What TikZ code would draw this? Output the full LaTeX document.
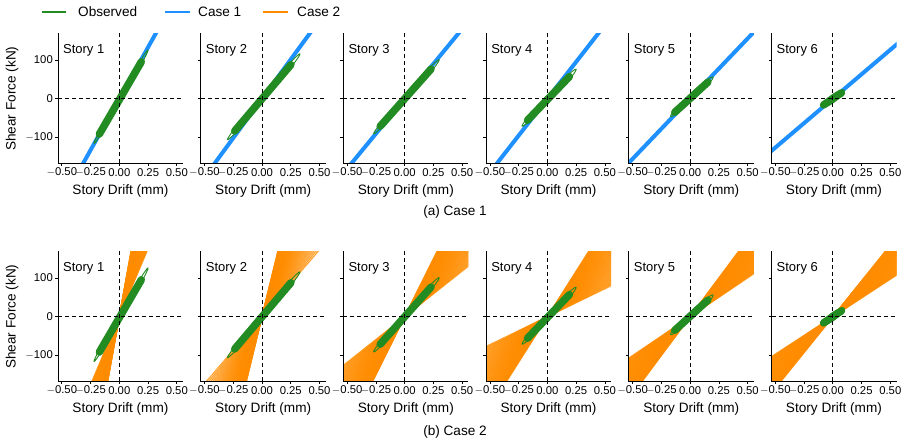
\documentclass[tikz,border=0pt]{standalone}
\usepackage{fontspec}
\setmainfont{Liberation Sans}
\begin{document}
\definecolor{obsg}{RGB}{34,139,34}
\definecolor{cblue}{RGB}{30,144,255}
\definecolor{corange}{RGB}{255,140,0}
\tikzset{tick/.style={font=\fontsize{11.3}{12}\selectfont,inner sep=0pt},
 ttl/.style={font=\fontsize{13.6}{15}\selectfont,inner sep=0pt}}
\newcommand\fanA[1]{\begin{scope}\clip (-0.533,-166) rectangle (0.554,169);
 \draw[cblue,line width=4pt] (-0.6,-0.6*#1)--(0.6,0.6*#1);\end{scope}}
\newcommand\fanB[2]{\begin{scope}\clip (-0.533,-166) rectangle (0.554,169);
 \foreach \i in {0,...,60}{\pgfmathsetmacro\s{#1+(#2-#1)/60*mod(\i*23,61)}
 \draw[corange,line width=1.2pt,opacity=0.8] (-0.6,-0.6*\s)--(0.6,0.6*\s);}\end{scope}}
\newcommand\obs[4]{\pgfmathsetmacro\cx{(#1+#3)/2}\pgfmathsetmacro\cy{(#2+#4)/2}
 \pgfmathsetmacro\dx{(#3-#1)/2}\pgfmathsetmacro\dy{(#4-#2)/2}
 \draw[obsg,line width=0.9pt] plot[domain=0:360,samples=72,smooth] ({\cx+\dx*cos(\x)},{\cy+\dy*cos(\x)+11*sin(\x)});
 \draw[obsg,line width=7.5pt,line cap=round] ({\cx-0.8*\dx},{\cy-0.8*\dy})--({\cx+0.75*\dx},{\cy+0.75*\dy});}
\newcommand\axbox[1]{
 \draw[black,dash pattern=on 4pt off 3pt,line width=0.8pt] (0,169)--(0,-166) (-0.533,0)--(0.554,0);
 \draw[black,line width=0.9pt] (-0.533,169)--(-0.533,-166)--(0.554,-166);
 \foreach \t/\l in {-0.5/{$-$0.50},-0.25/{$-$0.25},0/0.00,0.25/0.25,0.5/0.50}{
  \draw[line width=0.7pt] (\t,-166)--++(0,-3pt);
  \node[tick] at (\t,-190) {\l};}
 \foreach \t in {-100,0,100}{\draw[line width=0.7pt] (-0.533,\t)--++(-3pt,0);}
 \node[ttl,anchor=west,font=\fontsize{13}{15}\selectfont] (s#1) at (-0.49,125) {Story #1};
 \node[ttl] at (0.01,-237) {Story Drift (mm)};}
\newcommand\ylab{\foreach \t/\l in {-100/{$-$100},0/0,100/100}{
 \node[tick,anchor=east] at ([xshift=-5pt]-0.533,\t) {\l};}
 \node[ttl,rotate=90] at ([xshift=-46pt]-0.533,0) {Shear Force (kN)};}
\begin{tikzpicture}[x=1pt,y=1pt]
\useasboundingbox (0,0) rectangle (909,-444);
% legend
\draw[obsg,line width=1.6pt] (42,-12)--(66,-12); \node[ttl,anchor=west] (l1) at (78,-12) {Observed};
\draw[cblue,line width=1.6pt] (165,-12)--(190,-12); \node[ttl,anchor=west] (l2) at (198,-12) {Case 1};
\draw[corange,line width=1.6pt] (263,-12)--(288,-12); \node[ttl,anchor=west] (l3) at (297,-12) {Case 2};
% row 1
\begin{scope}[shift={(119.3,-98.7)},x=115pt,y=0.388pt]\fanA{530}\obs{-0.22}{-115}{0.25}{125}\axbox{1}\ylab\end{scope}
\begin{scope}[shift={(262,-98.7)},x=115pt,y=0.388pt]\fanA{405}\obs{-0.3}{-105}{0.33}{115}\axbox{2}\end{scope}
\begin{scope}[shift={(404.7,-98.7)},x=115pt,y=0.388pt]\fanA{360}\obs{-0.27}{-90}{0.3}{100}\axbox{3}\end{scope}
\begin{scope}[shift={(547.4,-98.7)},x=115pt,y=0.388pt]\fanA{380}\obs{-0.22}{-70}{0.25}{75}\axbox{4}\end{scope}
\begin{scope}[shift={(690.1,-98.7)},x=115pt,y=0.388pt]\fanA{310}\obs{-0.17}{-45}{0.2}{55}\axbox{5}\end{scope}
\begin{scope}[shift={(832.8,-98.7)},x=115pt,y=0.388pt]\fanA{252}\obs{-0.1}{-20}{0.1}{20}\axbox{6}\end{scope}
\node[ttl] (ca) at (455,-212) {(a) Case 1};
% row 2
\begin{scope}[shift={(119.3,-316.7)},x=115pt,y=0.388pt]\fanB{700}{1660}\obs{-0.22}{-115}{0.25}{125}\axbox{1}\ylab\end{scope}
\begin{scope}[shift={(262,-316.7)},x=115pt,y=0.388pt]\fanB{345}{1230}\obs{-0.3}{-105}{0.33}{115}\axbox{2}\end{scope}
\begin{scope}[shift={(404.7,-316.7)},x=115pt,y=0.388pt]\fanB{235}{600}\obs{-0.27}{-90}{0.3}{100}\axbox{3}\end{scope}
\begin{scope}[shift={(547.4,-316.7)},x=115pt,y=0.388pt]\fanB{144}{470}\obs{-0.22}{-70}{0.25}{75}\axbox{4}\end{scope}
\begin{scope}[shift={(690.1,-316.7)},x=115pt,y=0.388pt]\fanB{200}{400}\obs{-0.17}{-45}{0.2}{55}\axbox{5}\end{scope}
\begin{scope}[shift={(832.8,-316.7)},x=115pt,y=0.388pt]\fanB{193}{370}\obs{-0.1}{-20}{0.1}{20}\axbox{6}\end{scope}
\node[ttl] (cb) at (455,-432) {(b) Case 2};
\end{tikzpicture}
\end{document}
